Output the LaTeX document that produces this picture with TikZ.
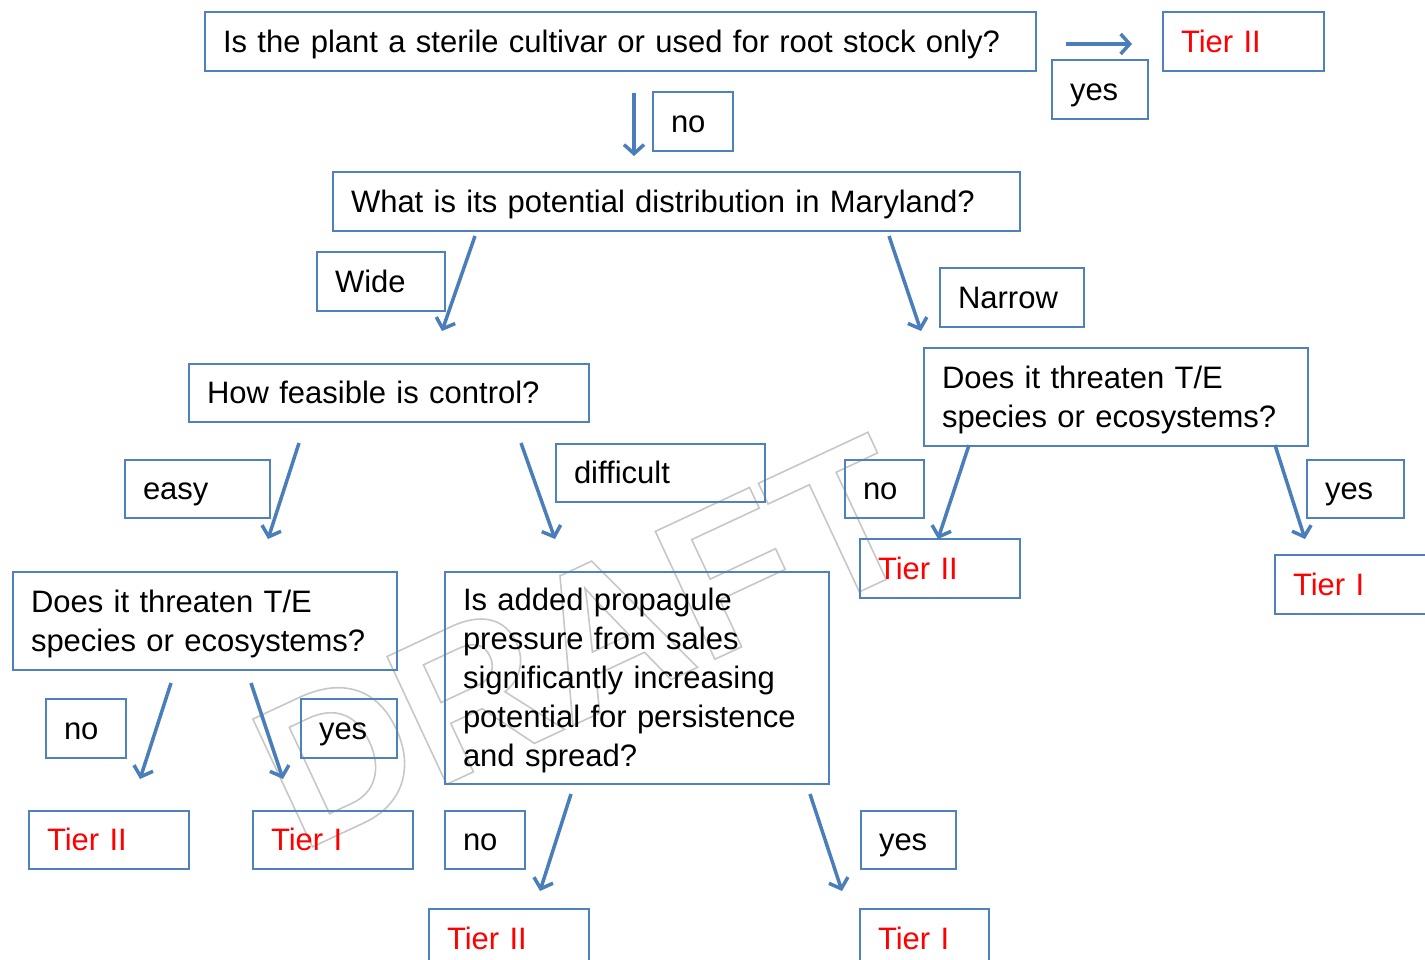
\documentclass[tikz,border=0pt]{standalone}
\usepackage{fontspec}
\setmainfont{Liberation Sans}
\usetikzlibrary{arrows.meta}
\definecolor{boxblue}{RGB}{79,129,189}
\definecolor{arrblue}{RGB}{74,126,187}
\definecolor{tierred}{RGB}{255,0,0}
\newcommand\outlinetext[1]{\special{pdf:literal direct 1 Tr 1.6 w 0.78 0.78 0.78 RG}#1\special{pdf:literal direct 0 Tr}}
\newcommand\pstrut{\rule[-6.6pt]{0pt}{34.6pt}}
\tikzset{
  box/.style={draw=boxblue, line width=2pt, anchor=north west, inner xsep=18pt, inner ysep=0pt,
    align=left, font=\fontsize{31}{39}\selectfont, text=black,
    execute at begin node=\pstrut, execute at end node=\pstrut},
  tier/.style={box, text=tierred},
  arr/.style={draw=arrblue, line width=3.5pt, -{Straight Barb[length=9pt,width=20pt]}},
}
\begin{document}
\begin{tikzpicture}[x=1pt,y=-1pt]
\useasboundingbox (0,0) rectangle (1425,960);
\clip (0,0) rectangle (1425,960);
% watermark
\node[rotate=25, inner sep=0pt, font=\fontsize{205}{205}\selectfont\bfseries] (wm) at (585,642) {\outlinetext{DRAFT}};
% boxes
\node[box, text width=795pt, minimum height=59pt] (q1) at (204,11) {Is the plant a sterile cultivar or used for root stock only?};
\node[box, text width=60pt, minimum height=59pt] (yes1) at (1051,59) {yes};
\node[tier, text width=125pt, minimum height=59pt] (t1) at (1162,11) {Tier II};
\node[box, text width=44pt, minimum height=59pt] (no1) at (652,91) {no};
\node[box, text width=651pt, minimum height=59pt] (q2) at (332,171) {What is its potential distribution in Maryland?};
\node[box, text width=92pt, minimum height=59pt] (wide) at (316,251) {Wide};
\node[box, text width=108pt, minimum height=59pt] (narrow) at (939,267) {Narrow};
\node[box, text width=364pt, minimum height=58pt] (q3) at (188,363) {How feasible is control?};
\node[box, text width=348pt, minimum height=98pt] (q4) at (923,347) {Does it threaten T/E\\species or ecosystems?};
\node[box, text width=109pt, minimum height=58pt] (easy) at (124,459) {easy};
\node[box, text width=173pt, minimum height=58pt] (difficult) at (555,443) {difficult};
\node[box, text width=43pt, minimum height=58pt] (no2) at (844,459) {no};
\node[box, text width=61pt, minimum height=58pt] (yes2) at (1306,459) {yes};
\node[tier, text width=124pt, minimum height=59pt] (t2) at (859,538) {Tier II};
\node[tier, text width=134pt, minimum height=59pt] (t3) at (1274,554) {Tier I};
\node[box, text width=348pt, minimum height=98pt] (q5) at (12,571) {Does it threaten T/E\\species or ecosystems?};
\node[box, text width=348pt, minimum height=212pt] (q6) at (444,571) {Is added propagule\\pressure from sales\\significantly increasing\\potential for persistence\\and spread?};
\node[box, text width=44pt, minimum height=59pt] (no3) at (45,698) {no};
\node[box, text width=60pt, minimum height=59pt] (yes3) at (300,698) {yes};
\node[tier, text width=124pt, minimum height=58pt] (t4) at (28,810) {Tier II};
\node[tier, text width=124pt, minimum height=58pt] (t5) at (252,810) {Tier I};
\node[box, text width=44pt, minimum height=58pt] (no4) at (444,810) {no};
\node[box, text width=59pt, minimum height=58pt] (yes4) at (860,810) {yes};
\node[tier, text width=124pt, minimum height=59pt] (t6) at (428,908) {Tier II};
\node[tier, text width=93pt, minimum height=59pt] (t7) at (859,908) {Tier I};
% arrow end points
\coordinate (a1s) at (1066,44);  \coordinate (a1e) at (1132,44);
\coordinate (a2s) at (634,93);   \coordinate (a2e) at (634,156);
\coordinate (a3s) at (475,236);  \coordinate (a3e) at (442,331);
\coordinate (a4s) at (889,236);  \coordinate (a4e) at (921,331);
\coordinate (a5s) at (299,443);  \coordinate (a5e) at (268,539);
\coordinate (a6s) at (521,443);  \coordinate (a6e) at (555,539);
\coordinate (a7s) at (969,445);  \coordinate (a7e) at (938,539);
\coordinate (a8s) at (1275,445); \coordinate (a8e) at (1305,539);
\coordinate (a9s) at (171,683);  \coordinate (a9e) at (140,779);
\coordinate (a10s) at (251,683); \coordinate (a10e) at (283,779);
\coordinate (a11s) at (571,794); \coordinate (a11e) at (540,891);
\coordinate (a12s) at (810,794); \coordinate (a12e) at (842,891);
\foreach \i in {1,...,12} { \draw[arr] (a\i s) -- (a\i e); }
\end{tikzpicture}
\end{document}
